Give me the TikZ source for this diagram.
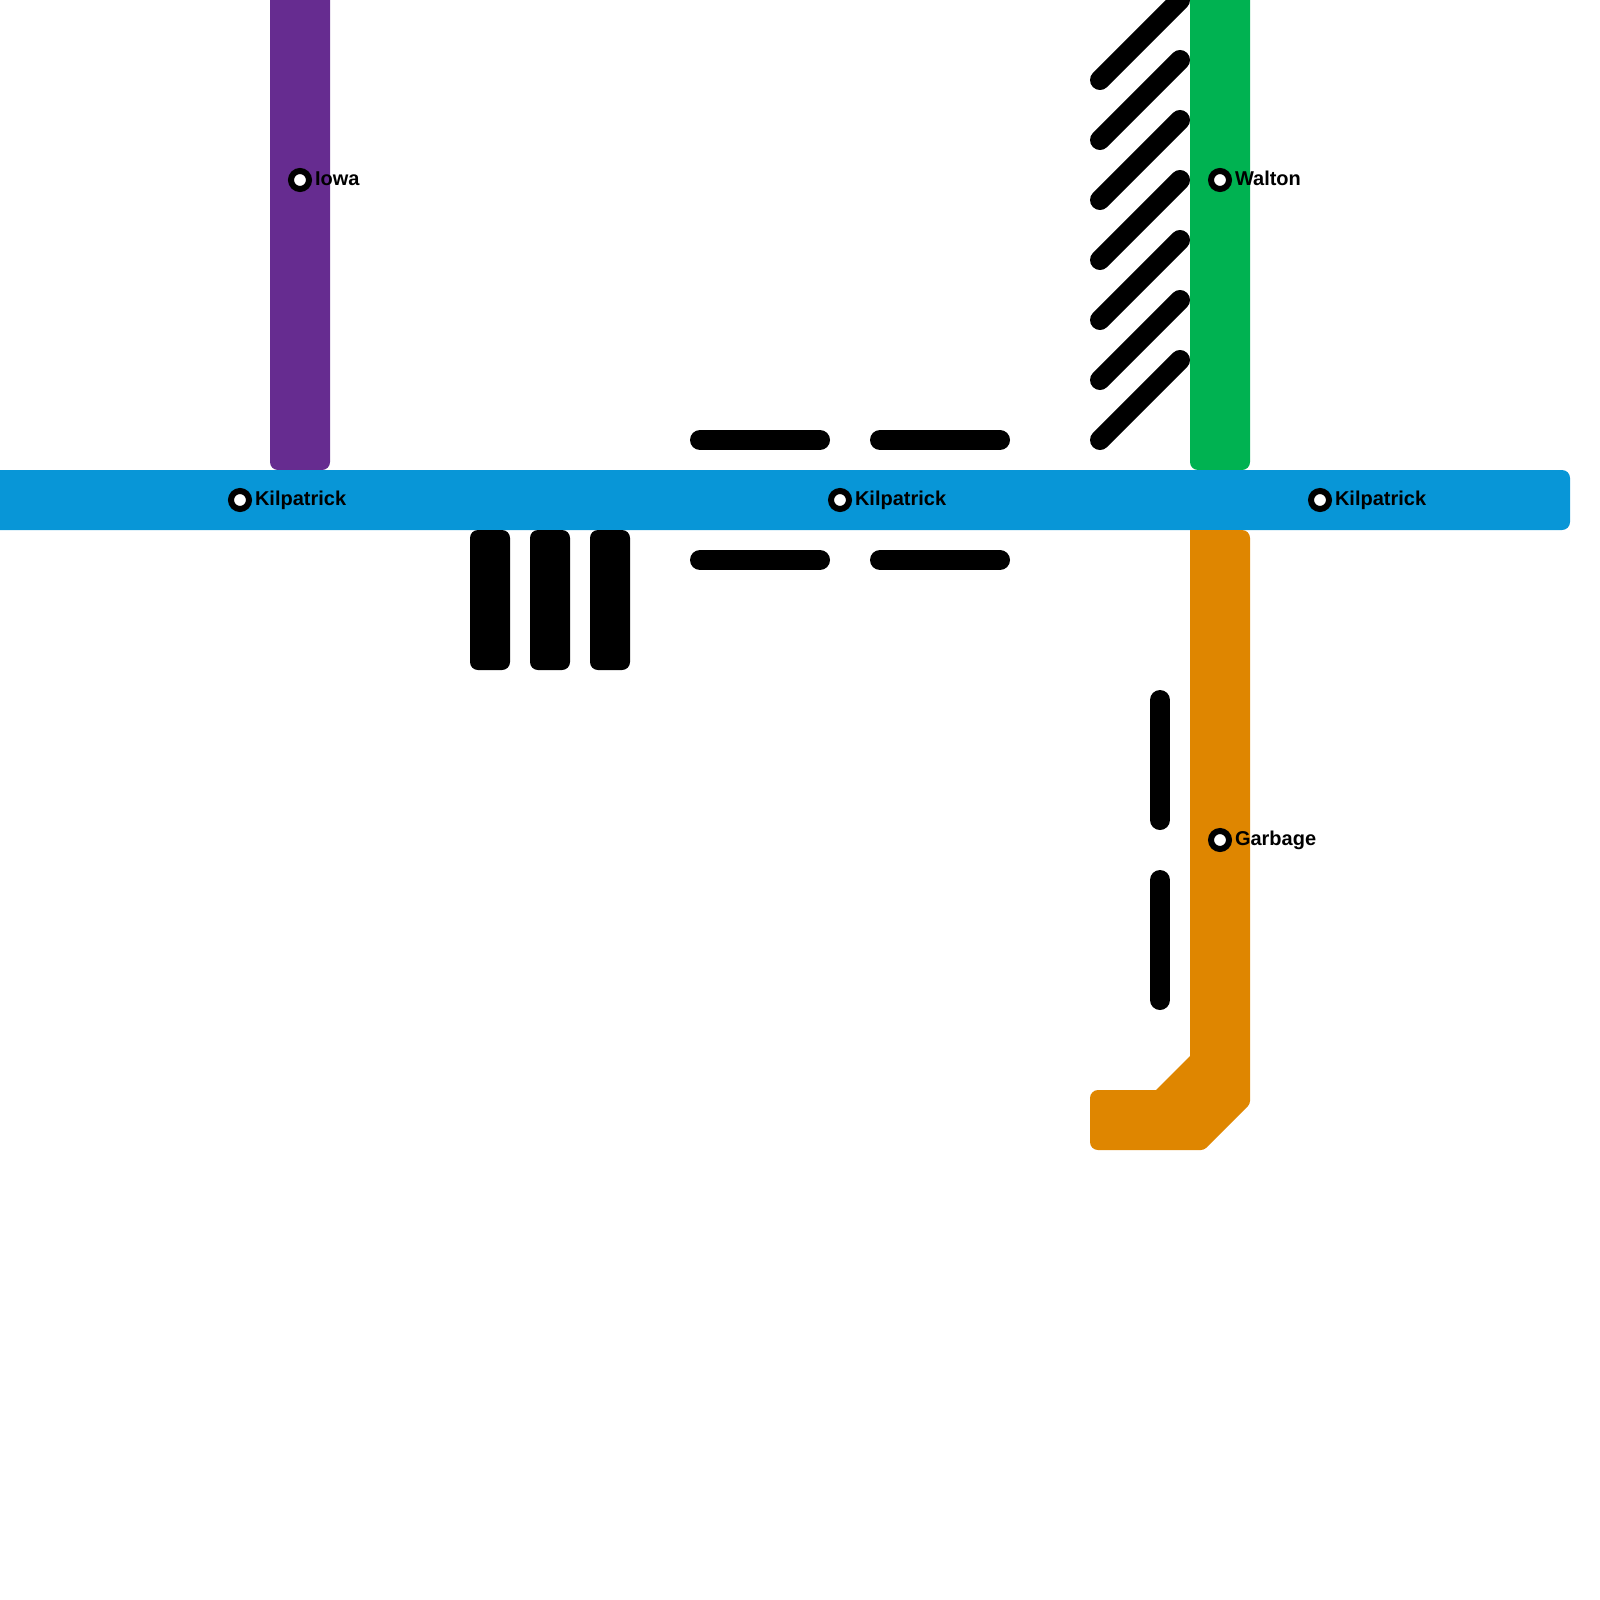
\documentclass[tikz,border=0pt]{standalone}
\usepackage{fontspec}
\setmainfont{Liberation Sans}
\definecolor{lineblue}{HTML}{0896D7}
\definecolor{linepurple}{HTML}{662C90}
\definecolor{linegreen}{HTML}{00B251}
\definecolor{lineorange}{HTML}{DF8600}
\tikzset{
  metro/.style={rounded corners=8pt},
  thinbar/.style={line width=20pt,line cap=round,black},
  hub/.style={circle,draw=black,fill=white,line width=6pt,minimum size=18pt,inner sep=0pt},
  stationlabel/.style={anchor=base west,inner sep=0pt,outer sep=0pt,text=black,font=\fontsize{20}{24}\selectfont\bfseries}
}
\begin{document}
\begin{tikzpicture}[x=1pt,y=-1pt]
\useasboundingbox (0,0) rectangle (1600,1600);
\clip (0,0) rectangle (1600,1600);
% thick lines
\fill[linepurple,metro] (270,-30) rectangle (330,470);
\fill[linegreen,metro] (1190,-30) rectangle (1250,470);
\fill[lineblue,metro] (-30,470) rectangle (1570,530);
\fill[lineorange,rounded corners=8pt] (1190,530) -- (1250,530) [rounded corners=3pt] -- (1250,1104) -- (1204,1150) [rounded corners=8pt] -- (1090,1150) -- (1090,1090) [sharp corners] -- (1156,1090) -- (1190,1056) -- cycle;
% black bars
\foreach \x in {470,530,590}
  \fill[black,metro] (\x,530) rectangle (\x+40,670);
\foreach \y in {440,560} {
  \draw[thinbar] (700,\y) -- (820,\y);
  \draw[thinbar] (880,\y) -- (1000,\y);
}
\draw[thinbar] (1160,700) -- (1160,820);
\draw[thinbar] (1160,880) -- (1160,1000);
\foreach \y in {440,380,320,260,200,140,80}
  \draw[thinbar] (1100,\y) -- (1180,\y-80);
% stations
\node[hub] (s1) at (300,180) {};
\node[stationlabel] (l1) at (315,185.2) {Iowa};
\node[hub] (s2) at (1220,180) {};
\node[stationlabel] (l2) at (1235,185.2) {Walton};
\node[hub] (s3) at (240,500) {};
\node[stationlabel] (l3) at (255,505.2) {Kilpatrick};
\node[hub] (s4) at (840,500) {};
\node[stationlabel] (l4) at (855,505.2) {Kilpatrick};
\node[hub] (s5) at (1320,500) {};
\node[stationlabel] (l5) at (1335,505.2) {Kilpatrick};
\node[hub] (s6) at (1220,840) {};
\node[stationlabel] (l6) at (1235,845.2) {Garbage};
\end{tikzpicture}
\end{document}
